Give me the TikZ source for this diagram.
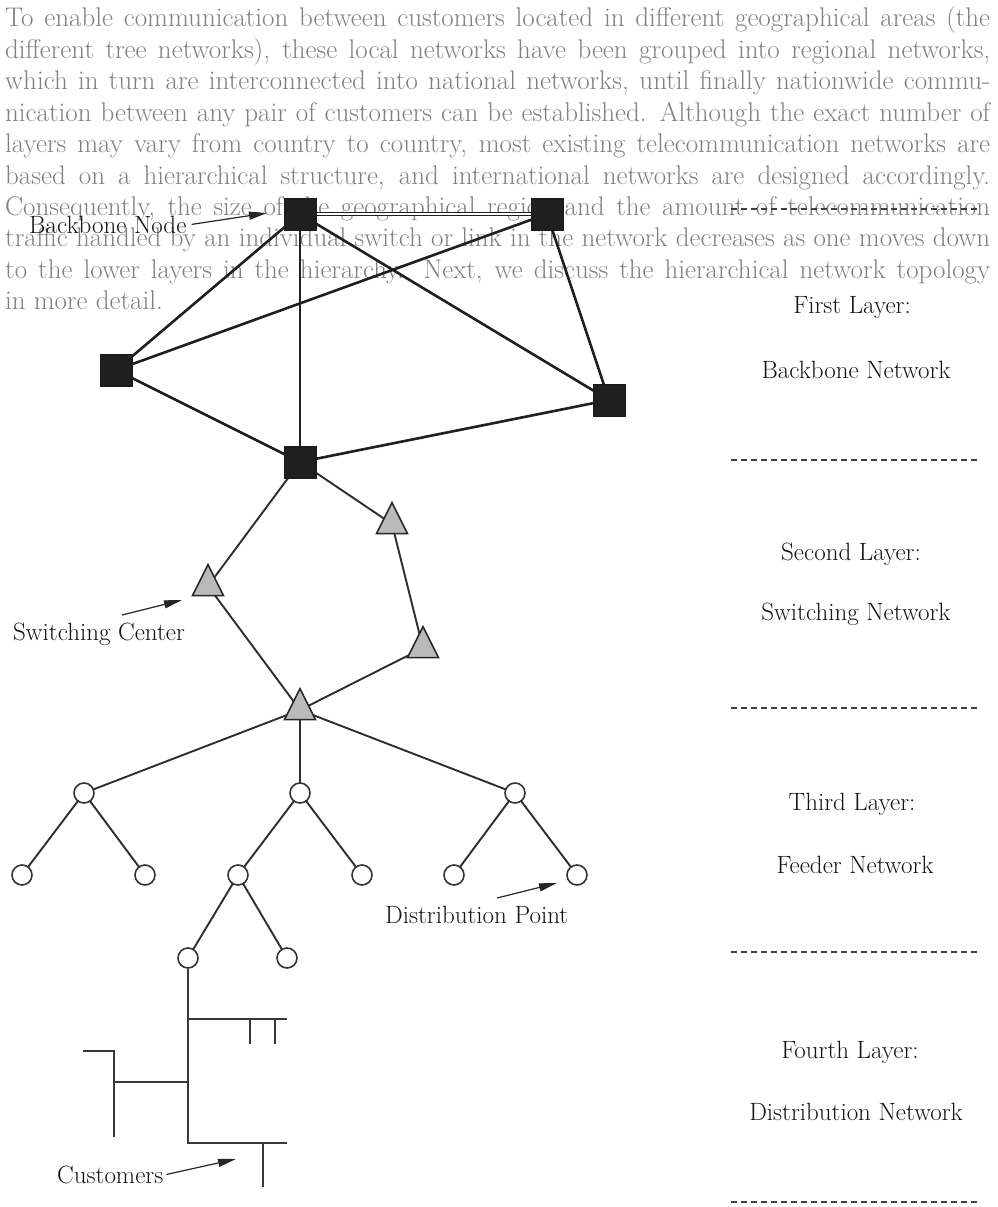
\documentclass[tikz,border=0pt]{standalone}
\usetikzlibrary{arrows.meta,shapes.geometric}
\pgfdeclarelayer{paper}
\pgfdeclarelayer{text}
\pgfdeclarelayer{bg}
\pgfsetlayers{paper,text,bg,main}

\tikzset{
  bbnode/.style={rectangle, fill=black!88, draw=black!90, line width=1pt,
    minimum size=32pt, inner sep=0pt},
  swnode/.style={isosceles triangle, isosceles triangle stretches,
    shape border rotate=90, fill=black!27, draw=black!85, line width=1.6pt,
    minimum width=31pt, minimum height=31pt, inner sep=0pt},
  fdnode/.style={circle, draw=black!80, fill=white, line width=1.6pt,
    minimum size=20pt, inner sep=0pt},
  trunk/.style={line width=2.6pt, draw=black!88},
  twin/.style={draw=black!88, line width=1.2pt, double=white, double distance=2.4pt},
  branch/.style={line width=1.9pt, draw=black!82},
  wire/.style={line width=1.5pt, draw=black!78},
  label/.style={font=\fontsize{25}{30}\selectfont, text=black!92, inner sep=0pt},
  pointer/.style={line width=1.2pt, draw=black!85,
    -{Triangle[length=18pt,width=8pt]}},
  separator/.style={line width=1.7pt, draw=black!75, dash pattern=on 6pt off 4pt},
  prose/.style={font=\fontsize{27}{31}\selectfont, text=black!50, inner sep=0pt,
    anchor=base west},
}
% one justified line of running text
\newcommand\proseline[1]{\makebox[985pt][s]{#1}}

\begin{document}
\begin{tikzpicture}[x=1pt, y=-1pt]
\useasboundingbox (0,0) rectangle (997,1207);
\begin{pgfonlayer}{paper}
  \fill[white] (0,0) rectangle (997,1207);
\end{pgfonlayer}

% running text of the page, set behind the figure
\begin{pgfonlayer}{text}
\foreach \n/\t in {
  0/{To enable communication between customers located in different geographical areas (the},
  1/{different tree networks), these local networks have been grouped into regional networks,},
  2/{which in turn are interconnected into national networks, until finally nationwide commu-},
  3/{nication between any pair of customers can be established. Although the exact number of},
  4/{layers may vary from country to country, most existing telecommunication networks are},
  5/{based on a hierarchical structure, and international networks are designed accordingly.},
  6/{Consequently, the size of the geographical region and the amount of telecommunication},
  7/{traffic handled by an individual switch or link in the network decreases as one moves down},
  8/{to the lower layers in the hierarchy. Next, we discuss the hierarchical network topology}}
  \node[prose] (p\n) at (5, 27+31.4*\n) {\proseline{\t}};
\node[prose] (p9) at (5, 309.6) {in more detail.};
\end{pgfonlayer}

% backbone nodes
\node[bbnode] (A) at (300,214) {};
\node[bbnode] (B) at (547,214) {};
\node[bbnode] (C) at (116,370) {};
\node[bbnode] (D) at (609,400) {};
\node[bbnode] (E) at (300,462) {};

% switching centers
\node[swnode] (T1) at (208,586) {};
\node[swnode] (T2) at (392,524) {};
\node[swnode] (T3) at (423,648) {};
\node[swnode] (T4) at (300,710) {};

% feeder network
\node[fdnode] (F1) at (84,793) {};
\node[fdnode] (F2) at (300,793) {};
\node[fdnode] (F3) at (515,793) {};
\node[fdnode] (G1) at (22,875) {};
\node[fdnode] (G2) at (145,875) {};
\node[fdnode] (G3) at (238,875) {};
\node[fdnode] (G4) at (362,875) {};
\node[fdnode] (G5) at (454,875) {};
\node[fdnode] (G6) at (577,875) {};
\node[fdnode] (H1) at (188,958) {};
\node[fdnode] (H2) at (287,958) {};

% distribution network junctions
\coordinate (d1) at (188,1019);
\coordinate (d1e) at (287,1019);
\coordinate (s1a) at (250,1019);
\coordinate (s1b) at (250,1044);
\coordinate (s2a) at (275,1019);
\coordinate (s2b) at (275,1044);
\coordinate (d2) at (188,1082);
\coordinate (d2w) at (114,1082);
\coordinate (v2a) at (114,1051);
\coordinate (v2b) at (114,1137);
\coordinate (v2c) at (83,1051);
\coordinate (d3) at (188,1143);
\coordinate (d3e) at (287,1143);
\coordinate (v3a) at (263,1143);
\coordinate (v3b) at (263,1187);

\begin{pgfonlayer}{bg}
  \draw[twin] (A.center) -- (B.center);
  \foreach \u/\v in {A/C, A/E, A/D, B/C, B/D, C/E, E/D}
    \draw[trunk] (\u.center) -- (\v.center);
  \foreach \u/\v in {E/T1, E/T2, T2/T3, T3/T4, T1/T4}
    \draw[branch] (\u.center) -- (\v.center);
  \foreach \u/\v in {T4/F1, T4/F2, T4/F3, F1/G1, F1/G2, F2/G3, F2/G4,
                     F3/G5, F3/G6, G3/H1, G3/H2}
    \draw[branch] (\u.center) -- (\v.center);
\end{pgfonlayer}

% distribution lines
\draw[wire] (H1.south) -- (d3) -- (d3e);
\draw[wire] (d1) -- (d1e);
\draw[wire] (s1a) -- (s1b);
\draw[wire] (s2a) -- (s2b);
\draw[wire] (d2) -- (d2w);
\draw[wire] (v2c) -- (v2a) -- (v2b);
\draw[wire] (v3a) -- (v3b);

% annotations with pointers
\node[label, anchor=base west] (lbb) at (29,233) {Backbone Node};
\coordinate (tbb) at (267,213);
\draw[pointer] (lbb.east) ++(5,0) -- (tbb);

\node[label, anchor=base west] (lsw) at (13,640) {Switching Center};
\coordinate (tsw) at (182,600);
\coordinate (ssw) at (122,615);
\draw[pointer] (ssw) -- (tsw);

\node[label, anchor=base west] (ldp) at (385,923) {Distribution Point};
\coordinate (tdp) at (557,883);
\coordinate (sdp) at (497,898);
\draw[pointer] (sdp) -- (tdp);

\node[label, anchor=base west] (lcu) at (57,1183) {Customers};
\coordinate (tcu) at (236,1159);
\draw[pointer] (lcu.east) ++(3,0) -- (tcu);

% layer captions
\node[label, anchor=base] (l1a) at (852,313) {First Layer:};
\node[label, anchor=base] (l1b) at (856,378) {Backbone Network};
\node[label, anchor=base] (l2a) at (851,560) {Second Layer:};
\node[label, anchor=base] (l2b) at (856,620) {Switching Network};
\node[label, anchor=base] (l3a) at (852,810) {Third Layer:};
\node[label, anchor=base] (l3b) at (855,873) {Feeder Network};
\node[label, anchor=base] (l4a) at (850,1058) {Fourth Layer:};
\node[label, anchor=base] (l4b) at (856,1120) {Distribution Network};

% layer boundaries
\foreach \yy in {209, 460, 708, 952, 1202}
  \draw[separator] (731,\yy) -- (977,\yy);
\end{tikzpicture}
\end{document}
